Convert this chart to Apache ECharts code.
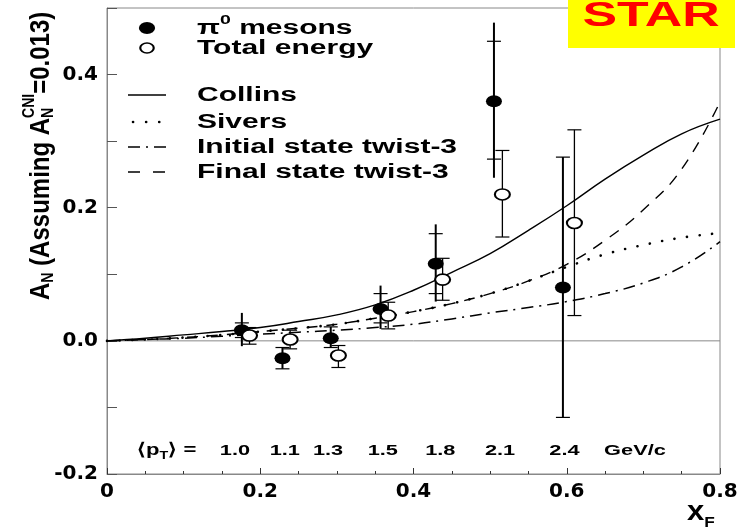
<!DOCTYPE html>
<html><head><meta charset="utf-8">
<script src="https://cdn.jsdelivr.net/npm/echarts@6/dist/echarts.min.js"></script>
<style>html,body{margin:0;padding:0;background:#fff}#c{width:742px;height:531px}</style>
</head><body><div id="c"></div>
<script>
// ---------------- data ----------------
const xTickValues = [0, 0.2, 0.4, 0.6, 0.8];
const xTickLabels = ['0', '0.2', '0.4', '0.6', '0.8'];
const yTickValues = [-0.2, 0, 0.2, 0.4];
const yTickLabels = ['-0.2', '0.0', '0.2', '0.4'];

// pi0 mesons (filled)
const piX     = [0.176, 0.229, 0.292, 0.357, 0.429, 0.505, 0.595];
const piY     = [0.016, -0.026, 0.004, 0.048, 0.116, 0.360, 0.080];
const piLo    = [-0.008, -0.042, -0.010, 0.018, 0.059, 0.245, -0.115];
const piHi    = [0.042, -0.010, 0.021, 0.083, 0.175, 0.478, 0.276];
const piCapLo = [0.005, -0.042, -0.010, 0.027, 0.071, 0.273, -0.115];
const piCapHi = [0.027, -0.010, 0.021, 0.071, 0.161, 0.450, 0.276];

// total energy (open)
const totX  = [0.186, 0.239, 0.302, 0.367, 0.438, 0.516, 0.610];
const totY  = [0.008, 0.002, -0.022, 0.038, 0.092, 0.220, 0.177];
const totLo = [-0.005, -0.012, -0.040, 0.018, 0.061, 0.156, 0.038];
const totHi = [0.020, 0.016, -0.007, 0.058, 0.124, 0.286, 0.317];

// theory curves
const curveX     = [0, 0.05, 0.1, 0.15, 0.2, 0.25, 0.3, 0.35, 0.4, 0.45, 0.5, 0.55, 0.6, 0.65, 0.7, 0.75, 0.8];
const collins    = [0, 0.004, 0.009, 0.014, 0.020, 0.029, 0.039, 0.054, 0.076, 0.103, 0.131, 0.166, 0.203, 0.243, 0.279, 0.311, 0.333];
const sivers     = [0, 0.002, 0.005, 0.009, 0.014, 0.019, 0.025, 0.034, 0.044, 0.056, 0.071, 0.090, 0.111, 0.130, 0.144, 0.155, 0.162];
const initialTw3 = [0, 0.002, 0.004, 0.007, 0.010, 0.013, 0.016, 0.020, 0.025, 0.033, 0.042, 0.050, 0.059, 0.071, 0.087, 0.111, 0.149];
const finalTw3   = [0, 0.002, 0.005, 0.009, 0.014, 0.019, 0.025, 0.034, 0.044, 0.056, 0.071, 0.090, 0.115, 0.151, 0.197, 0.258, 0.359];

const ptValues = ['1.0', '1.1', '1.3', '1.5', '1.8', '2.1', '2.4'];
const ptUnit = 'GeV/c';

// ---------------- layout / style ----------------
const FONT = '"Liberation Sans", Arial, Helvetica, sans-serif';
const AXFONT = '"DejaVu Sans", sans-serif';
const mctx = document.createElement('canvas').getContext('2d');
function tw(t, s) { mctx.font = 'bold ' + s + 'px ' + FONT; return mctx.measureText(t).width; }

function textRow(x, y, parts, opt) {
  opt = opt || {};
  let cx = 0, lastStart = 0;
  const kids = [];
  parts.forEach(p => {
    const px = p.same ? lastStart : cx;
    lastStart = px;
    kids.push({
      type: 'text', x: px, y: p.dy || 0, z: 100,
      style: { text: p.t, fontSize: p.s, fontWeight: 'bold', fontFamily: p.f || FONT,
        fill: opt.fill || '#000', align: 'left', verticalAlign: 'middle' }
    });
    cx = Math.max(cx, px + tw(p.t, p.s));
  });
  if (opt.center) kids.forEach(k => { k.x -= cx / 2; });
  return { type: 'group', x: x, y: y, rotation: opt.rotation || 0,
    scaleX: opt.sx || 1, scaleY: opt.sy || 1, children: kids, z: 100 };
}

const ellipsePath = 'path://M0,6A8,6 0 1,1 16,6A8,6 0 1,1 0,6Z';

function errSeries(name, xs, ys, lo, hi, clo, chi, lw) {
  return {
    type: 'custom', name: name, z: 3, silent: true,
    data: xs.map((x, i) => [x, ys[i], lo[i], hi[i], clo[i], chi[i]]),
    encode: { x: 0, y: 1 },
    renderItem: function (params, api) {
      const x = api.value(0);
      const t = api.coord([x, api.value(3)]), b = api.coord([x, api.value(2)]);
      const ct = api.coord([x, api.value(5)]), cb = api.coord([x, api.value(4)]);
      const hw = 7;
      return { type: 'group', children: [
        { type: 'line', shape: { x1: t[0], y1: t[1], x2: b[0], y2: b[1] }, style: { stroke: '#000', lineWidth: lw } },
        { type: 'line', shape: { x1: ct[0] - hw, y1: ct[1], x2: ct[0] + hw, y2: ct[1] }, style: { stroke: '#000', lineWidth: 1.2 } },
        { type: 'line', shape: { x1: cb[0] - hw, y1: cb[1], x2: cb[0] + hw, y2: cb[1] }, style: { stroke: '#000', lineWidth: 1.2 } }
      ] };
    }
  };
}

function curve(name, ys, dash, width, cap) {
  return {
    type: 'line', name: name, z: 2, silent: true, smooth: 0.45, symbol: 'none',
    data: curveX.map((x, i) => [x, ys[i]]),
    lineStyle: { color: '#000', width: width || 1.4, type: dash, cap: cap || 'butt' }
  };
}

const chart = echarts.init(document.getElementById('c'), null, { renderer: 'canvas' });

const option = {
  animation: false,
  backgroundColor: '#fff',
  grid: { left: 107, right: 22, top: 8, bottom: 57, show: true, borderColor: '#888', borderWidth: 1, backgroundColor: 'transparent' },
  xAxis: {
    type: 'value', min: 0, max: 0.8, interval: 0.2,
    axisLine: { show: true, onZero: false, lineStyle: { color: '#888', width: 1 } },
    axisTick: { show: true, inside: true, length: 6, lineStyle: { color: '#333', width: 1 } },
    minorTick: { show: true, splitNumber: 4, length: 3, lineStyle: { color: '#333', width: 1 } },
    splitLine: { show: false }, minorSplitLine: { show: false },
    axisLabel: { margin: 8, color: '#000', fontFamily: AXFONT, fontWeight: 'bold', fontSize: 20,
      showMinLabel: true, showMaxLabel: true, hideOverlap: false,
      formatter: v => { const i = xTickValues.findIndex(t => Math.abs(t - v) < 1e-6); return i >= 0 ? xTickLabels[i] : ''; } }
  },
  yAxis: {
    type: 'value', min: -0.2, max: 0.5, interval: 0.1,
    axisLine: { show: true, onZero: false, lineStyle: { color: '#888', width: 1 } },
    axisTick: { show: true, inside: true, length: 10, lineStyle: { color: '#555', width: 1 } },
    splitLine: { show: false },
    axisLabel: { margin: 9, color: '#000', fontFamily: AXFONT, fontWeight: 'bold', fontSize: 20,
      showMinLabel: true, showMaxLabel: true, hideOverlap: false,
      formatter: v => { const i = yTickValues.findIndex(t => Math.abs(t - v) < 1e-6); return i >= 0 ? yTickLabels[i] : ''; } }
  },
  series: [
    { type: 'line', name: 'zero', z: 1, silent: true, symbol: 'none', data: [[0, 0], [0.8, 0]],
      lineStyle: { color: '#888', width: 1 } },
    curve('Collins', collins, 'solid', 1.4),
    curve('Sivers', sivers, [0.1, 12.5], 2.6, 'round'),
    curve('Initial state twist-3', initialTw3, [12, 6, 2, 6], 1.5),
    curve('Final state twist-3', finalTw3, [11, 9], 1.4),
    errSeries('pi0 err', piX, piY, piLo, piHi, piCapLo, piCapHi, 2),
    errSeries('tot err', totX, totY, totLo, totHi, totLo, totHi, 1.3),
    { type: 'scatter', name: 'π0 mesons', z: 4, silent: true, symbol: ellipsePath, symbolSize: [16, 12],
      data: piX.map((x, i) => [x, piY[i]]), itemStyle: { color: '#000', opacity: 1 } },
    { type: 'scatter', name: 'Total energy', z: 5, silent: true, symbol: ellipsePath, symbolSize: [15, 11],
      data: totX.map((x, i) => [x, totY[i]]), itemStyle: { color: '#fff', borderColor: '#000', borderWidth: 1.8, opacity: 1 } }
  ]
};
chart.setOption(option);

// ---------------- annotations ----------------
const ptY = chart.convertToPixel({ gridIndex: 0 }, [0, -0.165])[1];
const ptLabelX = [0.167, 0.232, 0.2885, 0.360, 0.435, 0.513, 0.597];
const ptUnitX = 0.689;
const SX = 1.5;

const graphics = [];
// STAR logo
graphics.push({ type: 'rect', z: 90, shape: { x: 568, y: 0, width: 167, height: 48 }, style: { fill: '#ffff00' } });
graphics.push(textRow(651, 16, [{ t: 'STAR', s: 35 }], { fill: '#ff0000', sx: 1.48, center: true }));

// legend markers
graphics.push({ type: 'circle', z: 100, x: 147, y: 28, scaleX: 1.35, shape: { cx: 0, cy: 0, r: 6 }, style: { fill: '#000' } });
graphics.push({ type: 'circle', z: 100, x: 147, y: 48, scaleX: 1.35, shape: { cx: 0, cy: 0, r: 5 }, style: { fill: '#fff', stroke: '#000', lineWidth: 1.6 } });
// legend lines
graphics.push({ type: 'line', z: 100, shape: { x1: 128, y1: 95, x2: 166, y2: 95 }, style: { stroke: '#000', lineWidth: 1.4 } });
graphics.push({ type: 'line', z: 100, shape: { x1: 133, y1: 122, x2: 162, y2: 122 }, style: { stroke: '#000', lineWidth: 2.6, lineDash: [0.1, 13], lineCap: 'round' } });
graphics.push({ type: 'line', z: 100, shape: { x1: 128, y1: 147, x2: 166, y2: 147 }, style: { stroke: '#000', lineWidth: 1.5, lineDash: [12, 6, 2, 6] } });
graphics.push({ type: 'line', z: 100, shape: { x1: 128, y1: 172, x2: 166, y2: 172 }, style: { stroke: '#000', lineWidth: 1.4, lineDash: [12, 13] } });
// legend texts
graphics.push(textRow(197, 28, [{ t: 'π', s: 20 }, { t: '0', s: 13, dy: -8 }, { t: ' mesons', s: 20 }], { sx: SX }));
graphics.push(textRow(197, 48, [{ t: 'Total energy', s: 20 }], { sx: SX }));
graphics.push(textRow(197, 95, [{ t: 'Collins', s: 20 }], { sx: SX }));
graphics.push(textRow(197, 122, [{ t: 'Sivers', s: 20 }], { sx: SX }));
graphics.push(textRow(197, 147, [{ t: 'Initial state twist-3', s: 20 }], { sx: SX }));
graphics.push(textRow(197, 172, [{ t: 'Final state twist-3', s: 20 }], { sx: SX }));

// <pT> row
graphics.push(textRow(137, ptY, [{ t: '⟨p', s: 17 }, { t: 'T', s: 11, dy: 5 }, { t: '⟩ =', s: 17 }], { sx: 1.3 }));
ptValues.forEach((v, i) => {
  const px = chart.convertToPixel({ gridIndex: 0 }, [ptLabelX[i], 0])[0];
  graphics.push(textRow(px, ptY, [{ t: v, s: 15 }], { sx: 1.45, center: true }));
});
graphics.push(textRow(chart.convertToPixel({ gridIndex: 0 }, [ptUnitX, 0])[0], ptY, [{ t: ptUnit, s: 15 }], { sx: 1.45, center: true }));

// x axis title
graphics.push(textRow(687, 513, [{ t: 'x', s: 27 }, { t: 'F', s: 15, dy: 10 }], { sx: 1.15 }));

// y axis title (rotated)
graphics.push(textRow(41, 300, [
  { t: 'A', s: 24 }, { t: 'N', s: 14, dy: 7 },
  { t: ' (Assuming A', s: 24 },
  { t: 'N', s: 14, dy: 7 }, { t: 'CNI', s: 14, dy: -10, same: true },
  { t: '=0.013)', s: 24 }
], { rotation: Math.PI / 2, sy: 1.15 }));

chart.setOption({ graphic: { elements: graphics } });
</script>
</body></html>
